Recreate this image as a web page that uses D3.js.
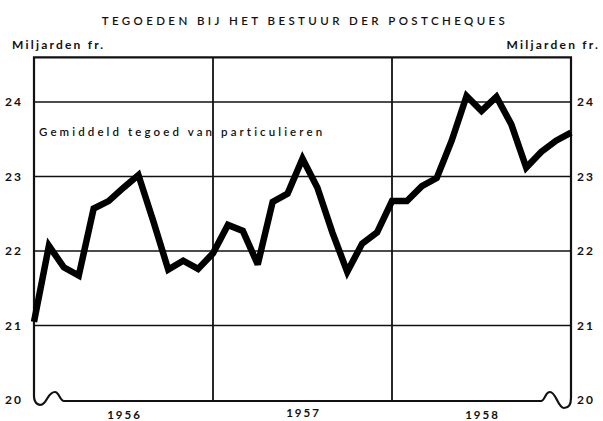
<!DOCTYPE html>
<html>
<head>
<meta charset="utf-8">
<script src="https://cdn.jsdelivr.net/npm/d3@7"></script>
<style>
  body { margin: 0; background: #fff; }
  text { font-family: Lato, "DejaVu Sans", sans-serif; fill: #111; }
</style>
</head>
<body>
<div id="chart"></div>
<script>
// maandgemiddelden, jan 1956 .. jan 1959 (index 0..36)
var months = d3.range(37);
var values = [21.05, 22.07, 21.78, 21.67, 22.57, 22.67, 22.85, 23.02, 22.4, 21.75, 21.87, 21.76,
              21.97, 22.35, 22.27, 21.82, 22.66, 22.77, 23.24, 22.85, 22.25, 21.72, 22.1, 22.25,
              22.67, 22.67, 22.87, 22.98, 23.48, 24.08, 23.88, 24.07, 23.7, 23.12, 23.33, 23.48, 23.59];
var years = ["1956", "1957", "1958"];
var yearStarts = [0, 12, 24, 36];
var yTicks = [20, 21, 22, 23, 24];

var W = 603, H = 421;
var svg = d3.select("#chart").append("svg")
    .attr("width", W)
    .attr("height", H);

var x = d3.scaleLinear().domain([0, 36]).range([34, 571]);
var y = d3.scaleLinear().domain([20, 24]).range([400, 102]);
var yTop = y(24.6);

// titel
svg.append("text")
    .attr("x", 305).attr("y", 25)
    .attr("text-anchor", "middle")
    .style("font-size", "11.5px")
    .style("letter-spacing", "3.4px")
    .style("font-weight", "600")
    .text("TEGOEDEN BIJ HET BESTUUR DER POSTCHEQUES");

svg.append("text")
    .attr("x", 12).attr("y", 49)
    .style("font-size", "12px")
    .style("letter-spacing", "2.2px")
    .style("font-weight", "700")
    .text("Miljarden fr.");
svg.append("text")
    .attr("x", 600).attr("y", 49)
    .attr("text-anchor", "end")
    .style("font-size", "12px")
    .style("letter-spacing", "2.2px")
    .style("font-weight", "700")
    .text("Miljarden fr.");

// horizontale rasterlijnen
svg.append("g").selectAll("line")
    .data(yTicks.filter(function (d) { return d > 20; }))
    .join("line")
    .attr("x1", x(0)).attr("x2", x(36))
    .attr("y1", function (d) { return y(d); })
    .attr("y2", function (d) { return y(d); })
    .attr("stroke", "#111")
    .attr("stroke-width", 1.6);

// jaargrenzen
svg.append("g").selectAll("line")
    .data(yearStarts.slice(1, 3))
    .join("line")
    .attr("x1", function (d) { return x(d); })
    .attr("x2", function (d) { return x(d); })
    .attr("y1", yTop).attr("y2", y(20))
    .attr("stroke", "#111")
    .attr("stroke-width", 1.8);

// kader met onderbrekingsteken onderaan
var x0 = x(0), x1 = x(36), yb = y(20) + 1;
var frame = d3.path();
frame.moveTo(x0, yTop);
frame.lineTo(x0, yb - 5);
frame.bezierCurveTo(x0, yb + 3, x0 + 6, yb + 6, x0 + 10, yb + 2);
frame.bezierCurveTo(x0 + 14, yb - 2, x0 + 15, yb - 9, x0 + 21, yb - 9);
frame.bezierCurveTo(x0 + 25, yb - 9, x0 + 26, yb, x0 + 30, yb);
frame.lineTo(x1 - 30, yb);
frame.bezierCurveTo(x1 - 26, yb, x1 - 26, yb - 9, x1 - 21, yb - 9);
frame.bezierCurveTo(x1 - 15, yb - 9, x1 - 13, yb + 7, x1 - 7, yb + 7);
frame.bezierCurveTo(x1 - 2, yb + 7, x1, yb + 3, x1, yb - 3);
frame.lineTo(x1, yTop);
frame.closePath();
svg.append("path")
    .attr("d", frame.toString())
    .attr("fill", "none")
    .attr("stroke", "#111")
    .attr("stroke-width", 2.2);

// aslabels links en rechts
svg.append("g").selectAll("text")
    .data(yTicks)
    .join("text")
    .attr("x", 23)
    .attr("y", function (d) { return y(d) + 4; })
    .attr("text-anchor", "end")
    .style("font-size", "12px")
    .style("letter-spacing", "2px")
    .style("font-weight", "700")
    .text(function (d) { return d; });
svg.append("g").selectAll("text")
    .data(yTicks)
    .join("text")
    .attr("x", 577)
    .attr("y", function (d) { return y(d) + 4; })
    .style("font-size", "12px")
    .style("letter-spacing", "2px")
    .style("font-weight", "700")
    .text(function (d) { return d; });

// jaartallen
svg.append("g").selectAll("text")
    .data(years)
    .join("text")
    .attr("x", function (d, i) { return x(yearStarts[i] + 6) + 1; })
    .attr("y", function (d, i) { return i === 1 ? 417 : 419; })
    .attr("text-anchor", "middle")
    .style("font-size", "11.5px")
    .style("letter-spacing", "2px")
    .style("font-weight", "700")
    .text(function (d) { return d; });

svg.append("text")
    .attr("x", 39).attr("y", 136)
    .style("font-size", "11.5px")
    .style("letter-spacing", "3.1px")
    .style("font-weight", "600")
    .text("Gemiddeld tegoed van particulieren");

// de reeks
var line = d3.line()
    .x(function (d, i) { return x(months[i]); })
    .y(function (d) { return y(d); });
svg.append("path")
    .datum(values)
    .attr("d", line)
    .attr("fill", "none")
    .attr("stroke", "#000")
    .attr("stroke-width", 6.5)
    .attr("stroke-linejoin", "miter")
    .attr("stroke-miterlimit", 3);
</script>
</body>
</html>
